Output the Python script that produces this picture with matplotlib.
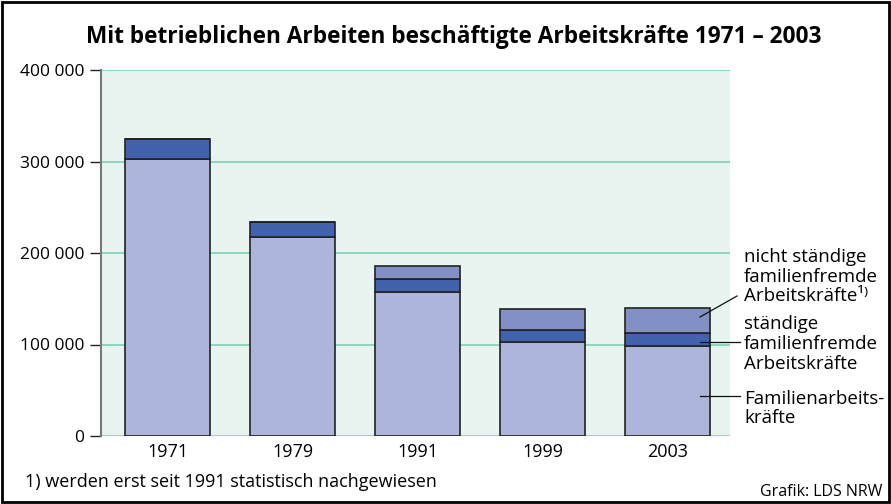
import matplotlib
matplotlib.use("Agg")
import matplotlib.pyplot as plt
from matplotlib.patches import Rectangle
from matplotlib.lines import Line2D
import numpy as np

plt.rcParams['font.family'] = ['Open Sans', 'DejaVu Sans']

years = ["1971", "1979", "1991", "1999", "2003"]
familie = [302500, 218000, 157000, 102700, 98400]
staendig = [22000, 16000, 15000, 12800, 14200]
nicht_staendig = [0, 0, 14000, 23600, 27300]
yticks = [0, 100000, 200000, 300000, 400000]
ytick_labels = ["0", "100 000", "200 000", "300 000", "400 000"]

c_fam = "#adb5da"
c_st = "#4262ad"
c_nst = "#8390c6"

fig = plt.figure(figsize=(8.91, 5.04), dpi=100)
ax = fig.add_axes([101/891, 1-436/504, 629/891, 366/504])
ax.set_facecolor("#e8f4f0")

x = np.arange(len(years))
w = 0.68
fam = np.array(familie); st = np.array(staendig); nst = np.array(nicht_staendig)
ax.bar(x, fam, w, color=c_fam, edgecolor="#222222", linewidth=1.2, zorder=3)
ax.bar(x, st, w, bottom=fam, color=c_st, edgecolor="#222222", linewidth=1.2, zorder=3)
ax.bar(x, nst, w, bottom=fam+st, color=c_nst, edgecolor="#222222", linewidth=1.2, zorder=3)

ax.set_xlim(-0.532, 4.5)
ax.set_ylim(0, 400000)
ax.set_yticks(yticks)
ax.set_yticklabels(ytick_labels, fontsize=12.5)
ax.set_xticks(x)
ax.set_xticklabels(years, fontsize=13)
ax.tick_params(axis='x', length=0, pad=5)
ax.tick_params(axis='y', length=8, width=1, direction='out', color="#222222", pad=4)
for yv in yticks:
    ax.axhline(yv, color="#7fcfb6", linewidth=1.2, zorder=1)
for s in ["top", "right", "bottom"]:
    ax.spines[s].set_visible(False)
ax.spines["left"].set_color("#777777")
ax.spines["left"].set_linewidth(1.5)

def px(xp, yp):
    return (xp/891, 1-yp/504)

fig.text(*px(454, 37), "Mit betrieblichen Arbeiten beschäftigte Arbeitskräfte 1971 – 2003",
         ha="center", va="center", fontsize=16.3, fontweight="bold")

fs = 13.5
ann_lines = [
    ("nicht ständige", 255), ("familienfremde", 275), ("Arbeitskräfte\u00b9\u207e", 294),
    ("ständige", 322), ("familienfremde", 342), ("Arbeitskräfte", 362),
    ("Familienarbeits-", 397), ("kräfte", 416),
]
for txt, yp in ann_lines:
    fig.text(*px(744, yp), txt, ha="left", va="center_baseline", fontsize=fs)

for (x0, y0, x1, y1) in [(700, 317, 737, 296), (700, 342, 740, 342), (700, 396, 740, 396)]:
    fig.add_artist(Line2D([x0/891, x1/891], [1-y0/504, 1-y1/504], color="#111111", linewidth=0.9,
                          transform=fig.transFigure, zorder=10))

fig.text(*px(25, 482), "1) werden erst seit 1991 statistisch nachgewiesen", ha="left", va="center", fontsize=13)
fig.text(*px(882, 492), "Grafik: LDS NRW", ha="right", va="center", fontsize=11.5)

fig.add_artist(Rectangle((0.002, 0.003), 0.996, 0.994, transform=fig.transFigure, fill=False,
                         edgecolor="black", linewidth=2))

fig.savefig("out.png", dpi=100)
